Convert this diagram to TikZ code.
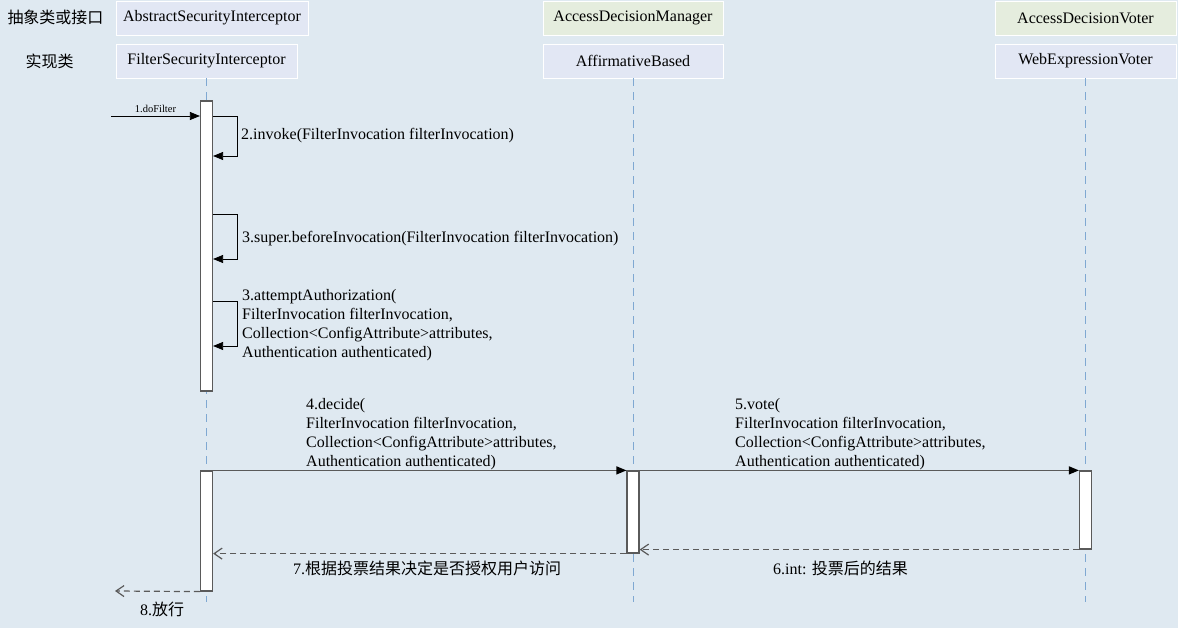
\documentclass[tikz,border=0pt]{standalone}
\usepackage{fontspec}
\setmainfont{Liberation Serif}
\newfontfamily\cjk{Noto Sans CJK SC}
\usetikzlibrary{arrows.meta}

\definecolor{bgblue}{HTML}{DFE9F1}
\definecolor{lav}{HTML}{E2E7F4}
\definecolor{sage}{HTML}{E5EDDE}
\definecolor{lifeblue}{HTML}{7FA8D2}
\definecolor{msggray}{HTML}{5A5A5A}
\newcommand\zhtext{\cjk\fontsize{16}{20}\selectfont}

\tikzset{
  cls/.style={draw=white, fill=lav, minimum height=34, inner sep=0, font=\fontsize{16}{19}\selectfont},
  iface/.style={cls, fill=sage},
  bar/.style={draw=msggray, line width=1.2pt, fill=white, minimum width=12, inner sep=0},
  life/.style={lifeblue, dash pattern=on 8pt off 6pt, line width=0.8pt},
  call/.style={msggray, line width=1.3pt, -{Triangle[length=10pt, width=8pt, color=black]}},
  self/.style={black, line width=0.8pt, -{Triangle[length=10pt, width=8pt]}},
  ret/.style={msggray, line width=1.2pt, dash pattern=on 6pt off 4pt, -{Straight Barb[length=8pt, width=11pt]}},
  lbl/.style={font=\fontsize{16}{19}\selectfont, align=left, inner sep=0, anchor=north west},
  zh/.style={font=\zhtext, inner sep=0}
}

\begin{document}
\begin{tikzpicture}[x=1pt, y=-1pt]
    \fill[bgblue] (0,0) rectangle (1178,628);
    \useasboundingbox (0,0) rectangle (1178,628);

    \node[zh] (k1) at (55.5, 17) {抽象类或接口};
    \node[zh] (k2) at (49.5, 61) {实现类};

    \node[cls, minimum width=192] (abs) at (212, 18) {AbstractSecurityInterceptor};
    \node[cls, minimum width=181] (fsi) at (206.5, 61) {FilterSecurityInterceptor};
    \node[iface, minimum width=180] (adm) at (633, 18) {AccessDecisionManager};
    \node[cls, minimum width=180] (aff) at (633, 61) {AffirmativeBased};
    \node[iface, minimum width=181] (adv) at (1085.5, 18) {AccessDecisionVoter};
    \node[cls, minimum width=181] (wev) at (1085.5, 61) {WebExpressionVoter};

    \coordinate (end) at (0, 602);
    \foreach \n in {fsi, aff, wev}
        \draw[life] (\n.south) -- (\n.south |- end);

    \node[bar, minimum height=290] (b1) at (206.5, 246) {};
    \node[bar, minimum height=120] (b2) at (206.5, 531) {};
    \node[bar, minimum height=82] (b3) at (633, 512) {};
    \node[bar, minimum height=78] (b4) at (1085.5, 510) {};

    \coordinate (in) at (111, 116);
    \coordinate (out) at (115, 591);
    \draw[self] (in) -- node[above, font=\fontsize{10.5}{12}\selectfont]{1.doFilter} (b1.west |- in);

    \draw[self] (b1.east |- 0,116) -- ++(24,0) |- (b1.east |- 0,156);
    \draw[self] (b1.east |- 0,214) -- ++(24,0) |- (b1.east |- 0,259);
    \draw[self] (b1.east |- 0,301) -- ++(24,0) |- (b1.east |- 0,346);
    \node[lbl, anchor=west] (t2) at (241, 136) {2.invoke(FilterInvocation filterInvocation)};
    \node[lbl, anchor=west] (t3) at (242, 239) {3.super.beforeInvocation(FilterInvocation filterInvocation)};
    \node[lbl] (t3b) at (242, 289) {3.attemptAuthorization(\\FilterInvocation filterInvocation,\\Collection<ConfigAttribute>attributes,\\Authentication authenticated)};

    \draw[call] (b2.north east) -- (b3.north west);
    \draw[call] (b3.north east) -- (b4.north west);
    \node[lbl] (t4) at (306, 398) {4.decide(\\FilterInvocation filterInvocation,\\Collection<ConfigAttribute>attributes,\\Authentication authenticated)};
    \node[lbl] (t5) at (735, 398) {5.vote(\\FilterInvocation filterInvocation,\\Collection<ConfigAttribute>attributes,\\Authentication authenticated)};

    \draw[ret] (b4.south west) -- (b3.east |- b4.south west);
    \draw[ret] (b3.south west) -- (b2.east |- b3.south west);
    \draw[ret] (b2.south west) -- (out);
    \node[lbl, anchor=west] (t6) at (773, 568) {6.int: {\zhtext 投票后的结果}};
    \node[lbl, anchor=west] (t7) at (293, 568) {7.{\zhtext 根据投票结果决定是否授权用户访问}};
    \node[lbl, anchor=west] (t8) at (140, 609) {8.{\zhtext 放行}};
\end{tikzpicture}
\end{document}
